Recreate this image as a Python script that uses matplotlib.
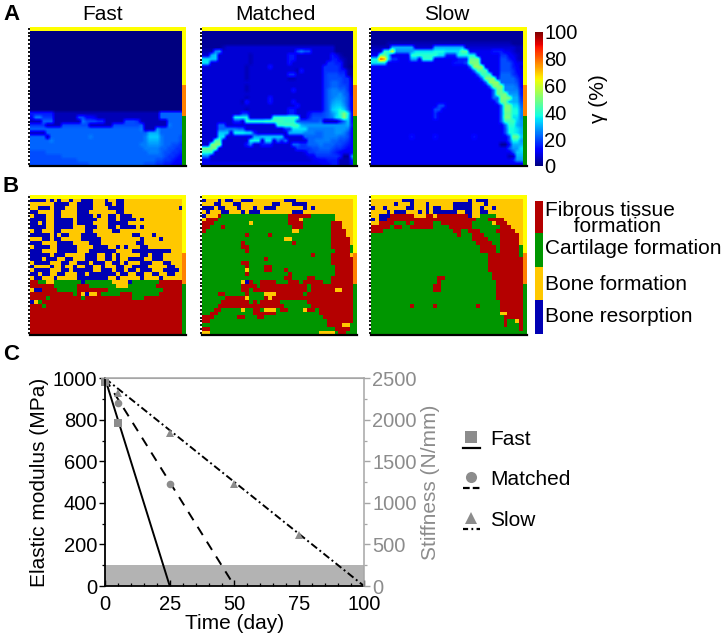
#!/usr/bin/env python3
# -*- coding: utf-8 -*-
import numpy as np
import matplotlib
matplotlib.use('Agg')
import matplotlib.pyplot as plt
from matplotlib.colors import ListedColormap
from matplotlib.patches import Rectangle
from matplotlib.lines import Line2D

plt.rcParams['font.family'] = ['Liberation Sans', 'DejaVu Sans']

W, H = 726, 637
N_COLS = 39

# gamma maps, one character per cell, base 36, 1 step = 2.5 %
fast_gamma = ['0'] * 21 + [
    '666666222222222222222222222222222999999',
    '5aa777222222885542222222222222222999999',
    '2229992222222a8887722222888722222229999',
    '77772222888888822222288888889222222a999',
    '9999999999999999999999999999a222b999999',
    '222299999999999999999999999999ccc999999',
    '999929999999999a9999999999999addda99998',
    '99999a99999999999999999999999accca99998',
    '9999999999999999999999999999aabbba99887',
    '99999999999999999999999999999aaaa998877',
    '888899999999999999999999999999aaa988776',
    '888888889999999999999999999999999987765',
    '888888888888999999999999999999998877655',
    '888888888888888999999999999998887766544',
]
matched_gamma = ['1'] * 4 + [
    '111112333333333333333333333333333311111',
    '222ab33333333333333333338a8833333311111',
    '33cd3333333323333333336633333333364211',
    'eedd3333333323333333336633333333366321',
    'ee33333333332333333333633333333377662111',
    '333333333332333336333333333333377776210'[:39],
    '333333333332333333333333263333377776621',
    '333333333332333333333377333333378887721',
    '333333333332333333333322333333378888772',
    '333333333333333333333333333333378998773',
    '333333333332333333333333333333378998873',
    '333333333332333333333336333333379aa9973',
    '333333333333333333333333333333379aab983',
    '333333333332333336333333333333379abba84',
    '333333333326333336333336333333379bcca84',
    '333333333333333333333333633333379cddb84',
    '333333333332333333333366333333379defd94',
    '333333333377333333333366333577789bdgkf5',
    '33333333ffff333333ggggggg33688889aefle5',
    '33333333773ggggghhhhhggg8888889222269d5',
    '3333993333333333333gghhhhcbbbbbbbbbbbc6',
    '333399aaa99333333333377eeeeaaaaaaabbba5',
    '3333ddd3fffee633333333ccccaaa99aaabba85',
    '3333ee3333333ccdddddd3333399999aaaa9985',
    '333ii3333333fff3ee3a6a3333399aaaa998875',
    '33kkk3333336a33666333339977999a99988765',
    'jjjj3333333333333333333377778899987765',
    'ggg3333333333333333333333347788887654',
    'aa333333333333333333333333344777777611b',
    '443333333333333333333333333344556662226',
    '444444444444444444444444444444455662225',
]
slow_gamma = ['1'] * 3 + [
    '111122222222222222222222222222222222111',
    '22222cccccc33333cccccccc333333333333322',
    '333ggpbbbbbeeeeefffeeeeii44444466644322',
    '44jje44444gggggggee666fffff44444477543'.ljust(39, '2'),
    'ffxte77444cc4ggg444444666jjj44444886532',
    'eeee44444444444444444666 8kkk4444488864'.replace(' ', '')[:39],
    '4444444444444444444444444 9lll444488865'.replace(' ', '') + '3',
    '44444444444444444444444444' + '9iii444888754',
    '444444444444444444444444444' + '9hhh44999764',
    '4444444444444444444444444444' + '9kkk6999975',
    '44444444444444444444444444444' + '9lll999985',
    '444444444444444444444444444444' + '9kkkaaa95',
    '4444444444444444444444444444444' + '9jjaaaa6',
    '4444444444444444444444444444444' + '9jjkbbb6',
    '4444444444444444444444444444444' + '99kkkcc7',
    '44444444444444444444444444444444' + '9jjccc8',
    '44444444444444444884444444444444' + '49kkee9',
    '4444444444444444884444444444444' + '449kkffa',
    '4444444444444444744444444444444' + '449jjffa',
    '4444444444444444744444444444444' + '449kkeea',
    '444444444444444444444444444444444' + '9hhhdb',
    '4444444444444444444444444444444444' + '9ggcb',
    '4444444444444444444444444444444444' + '8ffec',
    '4444444444444444444444444444444444' + '8ffec',
    '44444444446444446444444444644444444' + '8jjd',
    '44444444444444444444444444444444444' + '8ffb',
    '444444444444444444444444444444444' + '115ccc',
    '44444444444444444444444444444444444' + '8bbe',
    '444444444444444444444444444444444444' + '8dd',
    '44444444444444444444444444444444444' + '22cc',
    '444444444444444444444444444444444444' + '6bb',
    '444444444444444444444444444444444444' + '444',
]

# tissue maps: b resorption, y bone, g cartilage, r fibrous
fast_tissue = [
    'bbbbybybyybyybbbyyybyybbyyyyyyyyyyyyyyy',
    'yyyyyybbbbyybbbbyyybbybbyyyyyyyyyyyyyyy',
    'yybbbybbbyyybbbbyyyybbbbyyyyyyyyyyyyyyb',
    'bbyyyybbyyyybbbyyyyyyybbyyyyyyyyyyyyyyy',
    'ybbbyybbyyyybbbbybyybbybbbyyyyyyyyyyyyy',
    'bbbbyybbbbbybbbbbyyybbybbbbybyyyyyyyyyy',
    'bbybyybbbbbybbbbyyyybbbbbyyyyyyyyyyyyyy',
    'bbbbyybbbbbyyybbbyyybbybbbbybyyyyyyyyyy',
    'ybbyyybbyyyyyybbyyyyybbyyyyyyyyyyyyyyyy',
    'bbbbbybybbyyybbbbyyyyyyyyybbyyybyyyyyyy',
    'yyybbybbyyyyybbbbbyyyyyyyyyybyyyybyyyyy',
    'bbbyyyybbbbyyyybbbyyyyyyyyybbyyyyyyyyyy',
    'ybbbbyybbbbbyyyybbbbyybybyyybbyyyyyyyyy',
    'bbbyyyybbbbbyyybbbbbbbyyyybbbbbbbbbbyyy',
    'bbbbbybbbyyyyybbbyybbybyyyyybbybbbyyyyy',
    'bbbybbbyybbyyybbbyybbybyybbbbyybbbyyyyy',
    'ybbbbyyybbyybbbybbbyybbybyyybbbyyybbyyy',
    'byyyybyybyybyybbyybyyybbyybbbbyyyyybbyy',
    'ybbbbyyybbybbbbbyybbbybbybbybbbyyybbbby',
    'bbybbyybbyyybbybbbbbbbybbyybbyybbyybbyy',
    'ybbyyybyyyyybbbbbbbbyybyyyyybyyyybyyyyy',
    'rrggyygggggggbgggggggyyyybgggggggrrrrrr',
    'rrrrrrggggggrrrgggggggyyygggggggrrrrrrr',
    'ybbrrrrgggggrrrrrrrrggggggggggggggrrrrr',
    'rrrrrrrrrrrgrybyyrgggggrrrgggggggrrrrrr',
    'rrrrgrrrrrrrrgrrrrrrrrrrrrgggrrrrrrrrrr',
    'bygrrrrrrrrrrrrrrrrrrrrrrrrrrrrrrrrrrrr',
    'rrrgrrrrrrrrrrrrrrrrrrrrrrrrrrrrrrrrrrr',
] + ['r'] * 7
matched_tissue = [
    'byyybybbyybbbyyyyyyyybbbyyyyyyyyyyyyyyy',
    'yyybbyyybbyyyyyyyybbyyybbbbyyyyyyyyyyyy',
    'bbbybbyyybyyybyybbbyyyyyyybybyyyyyyyyyy',
    'ybyyybbyyybybbbyyyyyyyybbbyyyyyyyyyyyyy',
    'byyyrgggggggggggggggggrrrrrrggggggyyyyy',
    'yrrrggggggggggggggggggrrryggggggggyyyyy',
    'rrrgggggggggygggggggggrrrrgggggggrrryyy',
    'rrgggrgggggggggggggggggrrrgggggggrrryyy',
    'rggggggggggggggggggggggyyggggggggrrrryy',
    'gggggggggggrgggggrgggggggggggggggrrrryy',
    'gggggggggggggggggggggyyggggggggggrrrrry',
    'ggggggggggrggggggggggggrgggggggggrrrrry',
    'ggggggggggrrgggggggggggggggggggggrrrrrg',
    'gggggggggggrggggggggggggggggggggggrrrrg',
    'ggggggggggggggggggggggggggggrggggrrrrry',
    'ggggggggggggggggrggggggggggggggggrrrrrr',
    'ggggggggggrrgggggggggggggggggggggrrrrrr',
    'gggggggggggrggggrrggggggggggggggggrrrrr',
    'gggggggggggyggggrrgggrggggggggggggrrrrr',
    'gggggggggggrggggggggggrgggggggggggrrrrr',
    'gggggggggggggggggggggrrggggrrggggrrrrrr',
    'ggggggggggybrggrrrrgggrrrgrrrrrggrrrrrr',
    'ggggggggggrrrrgrrrrrrrrrrrrgrrrrrrrrrrr',
    'ggggggggggrrgrrrrrrrrrrrrrrgrrrrrryyrrr',
    'ggggrrgggggrggggyyyrrrrrrrgrrrrrrrrrrrr',
    'ggggggrrrrryggggryrrrrrrrrrrrrrrrrrrrrr',
    'gggggrrrrrrrgrgrrrrrgggggggrrrrrrrrrrrr',
    'ggggrrrrrrrrrrrrrrrrrgggggggrrrrrrrrrrr',
    'gggrrgggggyggrrgyyygrrggggyrrgrrrrrrrrr',
    'ggrrgggggggggrrrrrrgggggggggggrrrrrrrrr',
    'rrrggggggrrgggrrgggggggggggggggrrrrrrrr',
    'rrggggggggggggggggggggggggggggggrrrrrrr',
    'ggggggggggggggggggggggggggggggggrrrryyg',
    'rrggggggggggggggggggggggggggggggggrrrrg',
    'yyggggggggggggggggggggggggggggyyyygrrgg',
]
slow_tissue = [
    'yyyyyyyybbbyyyyyyyyyyyyyybybbbyyyyyyyyy',
    'yyyyyybyyybyyybyyyyyybbbbbyyybyyyyyyyyy',
    'byybyyyyybbyyybybbyyybbbbbyybyybyyyyyyy',
    'yyyybybbbyyybybybbbbbbyybbyybbyyyyyyyyy',
    'yybbbrrrrrryyyrryrrrrrrrrbyyggggyyyyyyy',
    'bybbrrrrrrrrrrrrrrrrrrrrrrrgggrrrryyyyy',
    'yyrrrrgggrgrrrrrggrrrrrrrrgggggyrrryyyy',
    'rrrrrgrrggrrrrrrggggrrrrrrgggggggrrryyy',
    'rrrggggggggggggggggggrrggrrrggggrrrrryy',
    'ggggggggggggggggggggggrgggrrrggggrrrrry',
    'ggggggggggggggggggggggggggrrrrgggrrrrry',
    'gggggggggggggggggggggggggggrrrrggrrrrry',
    'ggggggggggggggggggggggggggggrrrrgrrrrrg',
    'ggggggggggggggggggggggggggggrrrrgrrrrrg',
    'ggggggggggggggggggggggggggggggrrrrrrrrg',
    'ggggggggggggggggggggggggggggggrrrrrrrrr',
    'ggggggggggggggggggggggggggggggrrrrrrrrr',
    'ggggggggggggggggggggggggggggggrrrrrrrrr',
    'ggggggggggggggggggggggggggggggrrrrrrrrr',
    'gggggggggggggggggggggggggggggggrrrrrrrr',
    'gggggggggggggggggrrggggggggggggrrrrrrrr',
    'gggggggggggggggggrggggggggggggggrrrrrrr',
    'ggggggggggggggggrrggggggggggggggrrrrrrr',
    'ggggggggggggggggrrggggggggggggggrrrrrrr',
    'ggggggggggggggggggggggggggggggggrrrrrrr',
    'ggggggggggggggggggggggggggggggggrrrrrrr',
    'gggggggggggggggggggggggggggggggggrrrrrr',
    'ggggggggggrgggggrggggggggggrgggggrrrrrr',
    'gggggggggggggggggggggggggggggggggrrrrrr',
    'gggggggggggggggggggggggggggggggggyyrrrr',
    'ggggggggggggggggggggggggggggggggggrrrrr',
    'ggggggggggggggggggggggggggggggggggrggyr',
    'ggggggggggggggggggggggggggggggggggrgggr',
    'ggggggggggggggggggggggggggggggggggggggr',
    'ggggggggggggggggggggggggggggggggggggggg',
]

panel_names = ['Fast', 'Matched', 'Slow']
gamma_maps = [fast_gamma, matched_gamma, slow_gamma]
tissue_maps = [fast_tissue, matched_tissue, slow_tissue]
gamma_ticks = [0, 20, 40, 60, 80, 100]
tissue_labels = ['Fibrous tissue\n     formation', 'Cartilage formation', 'Bone formation', 'Bone resorption']

# panel C
fast_line_t = [0, 25]
fast_line_e = [1000, 0]
matched_line_t = [0, 50]
matched_line_e = [1000, 0]
slow_line_t = [0, 100]
slow_line_e = [1000, 0]
fast_pts_t = [0, 5]
fast_pts_e = [980, 785]
matched_pts_t = [0, 5, 25]
matched_pts_e = [980, 880, 490]
slow_pts_t = [0, 5, 25, 50, 75]
slow_pts_e = [980, 930, 735, 490, 245]
band_top = 100

TISSUE_COLORS = ['#0000b4', '#ffc800', '#009600', '#b40000']
TISSUE_CODES = 'bygr'
GREY = '#8c8c8c'
FS = 15


def box(x0, y0, x1, y1):
    return [x0 / W, 1 - y1 / H, (x1 - x0) / W, (y1 - y0) / H]


def fit(row):
    # rows were typed by hand, keep them to the grid width
    return row.ljust(N_COLS, row[-1])[:N_COLS]


def gamma_grid(rows):
    return np.array([[int(c, 36) * 2.5 for c in fit(r)] for r in rows])


def tissue_grid(rows):
    return np.array([[TISSUE_CODES.index(c) for c in fit(r)] for r in rows])


def add_boundary(ax, nrows):
    ax.add_patch(Rectangle((-0.5, -1.5), N_COLS + 1, 1, color='#ffff00', lw=0))
    ax.add_patch(Rectangle((N_COLS - 0.5, -1.5), 1, 15, color='#ffff00', lw=0))
    ax.add_patch(Rectangle((N_COLS - 0.5, 13.5), 1, 8, color='#ff8000', lw=0))
    ax.add_patch(Rectangle((N_COLS - 0.5, 21.5), 1, nrows - 21, color='#009600', lw=0))
    ax.set_xlim(-0.5, N_COLS + 0.5)
    ax.set_ylim(nrows - 0.5, -1.5)
    ax.set_aspect('auto')
    for s in ['top', 'right', 'left']:
        ax.spines[s].set_visible(False)
    ax.spines['bottom'].set_linewidth(1.6)
    ax.set_xticks([])
    ax.set_yticks(np.arange(-1, nrows))
    ax.set_yticklabels([])
    ax.tick_params(axis='y', length=1.8, width=1.3, color='k', pad=0)


fig = plt.figure(figsize=(W / 100, H / 100), dpi=100)

x_spans = [(29.5, 185.5), (201.7, 357), (371, 526.7)]
cmap_tissue = ListedColormap(TISSUE_COLORS)
for i, span in enumerate(x_spans):
    ax = fig.add_axes(box(span[0], 26.7, span[1], 166))
    data = gamma_grid(gamma_maps[i])
    im = ax.imshow(data, cmap='jet', vmin=0, vmax=100, interpolation='bilinear')
    add_boundary(ax, len(data))

    ax = fig.add_axes(box(span[0], 195, span[1], 335))
    data = tissue_grid(tissue_maps[i])
    ax.imshow(data, cmap=cmap_tissue, vmin=0, vmax=3, interpolation='nearest')
    add_boundary(ax, len(data))

# gamma colour bar
cax = fig.add_axes(box(534.5, 32, 542.7, 166))
cb = fig.colorbar(im, cax=cax, ticks=gamma_ticks)
cb.outline.set_visible(False)
cb.ax.tick_params(length=0, pad=1, labelsize=14.5)

# tissue legend bar
lax = fig.add_axes(box(534.7, 200.7, 542.7, 334))
lax.imshow(np.array([[3], [2], [1], [0]]), cmap=cmap_tissue, vmin=0, vmax=3, aspect='auto')
lax.axis('off')

# panel C
ax = fig.add_axes(box(105, 378.3, 364, 586))
ax.axhspan(0, band_top, color='#b3b3b3', lw=0)
ax.plot(fast_line_t, fast_line_e, '-', color='k', lw=1.4)
ax.plot(matched_line_t, matched_line_e, color='k', lw=1.4, dashes=(5, 4))
ax.plot(slow_line_t, slow_line_e, color='k', lw=1.4, dashes=(3.8, 1.6, 1, 1.6))
ax.plot(fast_pts_t, fast_pts_e, 's', color=GREY, ms=5.5, mew=0, clip_on=False)
ax.plot(matched_pts_t, matched_pts_e, 'o', color=GREY, ms=5.5, mew=0, clip_on=False)
ax.plot(slow_pts_t, slow_pts_e, '^', color=GREY, ms=6, mew=0, clip_on=False)
ax.set_xlim(0, 100)
ax.set_ylim(0, 1000)
ax.set_xticks([0, 25, 50, 75, 100])
ax.set_xticks(np.arange(0, 101, 5), minor=True)
ax.set_yticks([0, 200, 400, 600, 800, 1000])
ax.set_yticks(np.arange(0, 1001, 100), minor=True)
ax.tick_params(axis='both', which='major', labelsize=14.5, length=4, width=1, pad=1.5)
ax.tick_params(axis='both', which='minor', length=2.2, width=0.9)
ax.tick_params(axis='x', which='both', direction='in', pad=6.5)
ax.set_xlabel('Time (day)', fontsize=FS, labelpad=0)
ax.set_ylabel('Elastic modulus (MPa)', fontsize=FS, labelpad=3)
ax.spines['top'].set_color('#a6a6a6')
ax.spines['right'].set_visible(False)
ax.spines['left'].set_linewidth(1.3)
ax.spines['bottom'].set_linewidth(1.3)

ax2 = ax.twinx()
ax2.set_ylim(0, 2500)
ax2.set_yticks([0, 500, 1000, 1500, 2000, 2500])
ax2.set_yticks(np.arange(0, 2501, 250), minor=True)
ax2.tick_params(axis='y', which='major', labelsize=14.5, length=4, width=1, pad=2,
                color='#a6a6a6', labelcolor=GREY)
ax2.tick_params(axis='y', which='minor', length=2.2, width=0.9, color='#a6a6a6')
ax2.set_ylabel('Stiffness (N/mm)', fontsize=FS, color=GREY, labelpad=3)
for s in ['top', 'right']:
    ax2.spines[s].set_color('#a6a6a6')
    ax2.spines[s].set_linewidth(1.1)
ax2.spines['left'].set_visible(False)
ax2.spines['bottom'].set_visible(False)

# overlay in pixels for titles, panel letters and the hand-made legends
ov = fig.add_axes([0, 0, 1, 1], facecolor='none')
ov.set_xlim(0, W)
ov.set_ylim(H, 0)
ov.axis('off')
for name, xc in zip(panel_names, [103, 275, 447]):
    ov.text(xc, 15, name, ha='center', va='center', fontsize=FS)
for letter, yc in zip('ABC', [14, 187, 355]):
    ov.text(3, yc, letter, ha='left', va='center', fontsize=16, fontweight='bold')
ov.text(598, 99, 'γ (%)', rotation=90, ha='center', va='center', fontsize=FS)
for label, yc in zip(tissue_labels, [219, 249, 285, 316]):
    ov.text(545, yc, label, ha='left', va='center', fontsize=FS, linespacing=0.8)

legend_names = ['Fast', 'Matched', 'Slow']
legend_markers = ['s', 'o', '^']
legend_dashes = [None, (3, 1.4), (2.3, 1.5, 0.8, 1.5)]
for name, mk, ds, yc in zip(legend_names, legend_markers, legend_dashes, [437, 477, 518]):
    ov.plot([471], [yc], mk, color=GREY, ms=8, mew=0)
    line = Line2D([463, 480], [yc + 10.5, yc + 10.5], color='k', lw=1.6)
    if ds is not None:
        line.set_dashes(ds)
    ov.add_line(line)
    ov.text(490, yc + 2.5, name, ha='left', va='center', fontsize=FS)

fig.savefig('out.png', dpi=100)
